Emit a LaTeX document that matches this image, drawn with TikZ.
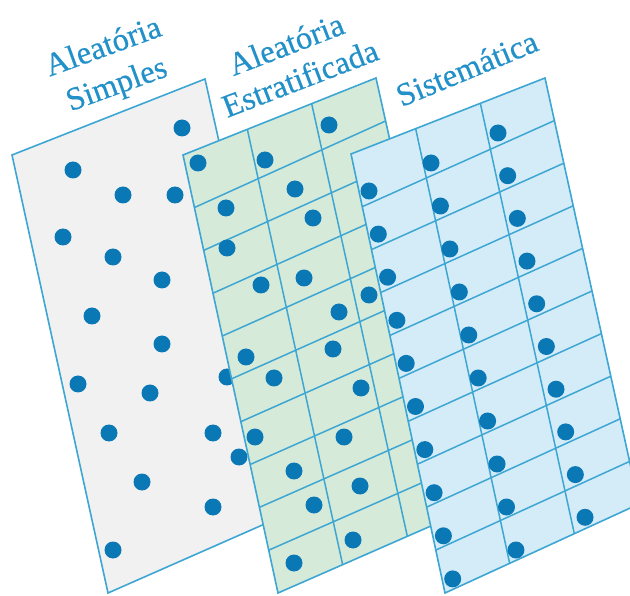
\documentclass[tikz,border=0pt]{standalone}
\usepackage{fontspec}
\setmainfont{Liberation Serif}
\newfontfamily\titlefont[FakeBold=0.35]{Liberation Serif}
\usetikzlibrary{calc}
\definecolor{linec}{HTML}{3EA6D3}
\definecolor{dotc}{HTML}{0B78B6}
\definecolor{textc}{HTML}{2290C9}
\definecolor{grayfill}{HTML}{F1F1F2}
\definecolor{greenfill}{HTML}{D5EAD8}
\definecolor{bluefill}{HTML}{D4ECF8}
\newcommand\sheetgrid[4]{%
  \foreach \r [evaluate=\r as \fl using 0.12+(\r-1)*0.09778, evaluate=\r as \fr using \r/10] in {1,...,9}{
    \draw[gridline] ($(#1)!\fl!(#4)$) -- ($(#2)!\fr!(#3)$);
  }
  \foreach \c [evaluate=\c as \fc using \c/3] in {1,2}{
    \draw[gridline] ($(#1)!\fc!(#2)$) -- ($(#4)!\fc!(#3)$);
  }
}
\begin{document}
\begin{tikzpicture}[x=1pt,y=-1pt,
  sheet/.style={draw=linec, line width=1.6pt, line join=miter},
  gridline/.style={draw=linec, line width=1.5pt},
  dot/.style={fill=dotc},
  title/.style={text=textc, font=\titlefont\fontsize{32.5}{38}\selectfont, anchor=base, inner sep=0pt}]
\clip (0,0) rectangle (630,596);
\fill[white] (0,0) rectangle (630,596);
% corners
\coordinate (gTL) at (12,155);  \coordinate (gTR) at (205,79);
\coordinate (gBR) at (301,508); \coordinate (gBL) at (108,593);
\coordinate (sTL) at (183,155); \coordinate (sTR) at (376,78);
\coordinate (sBR) at (472,508); \coordinate (sBL) at (278,593);
\coordinate (bTL) at (351,154); \coordinate (bTR) at (545,78);
\coordinate (bBR) at (639,504); \coordinate (bBL) at (445,593);
% titles
\node[title, rotate=20] (t1a) at (106.5,56) {Aleatória};
\node[title, rotate=20] (t1b) at (120,93.5) {Simples};
\node[title, rotate=21] (t2a) at (290,54.5) {Aleatória};
\node[title, rotate=21] (t2b) at (304,88.5) {Estratificada};
\node[title, rotate=22.5] (t3) at (471,78.5) {Sistemática};
% gray sheet
\path[sheet, fill=grayfill] (gTL) -- (gTR) -- (gBR) -- (gBL) -- cycle;
\foreach \x/\y in {182/128, 73/170, 123/195, 175/195, 63/237, 113/257, 162/280,
  92/316, 162/344, 78/384, 150/393, 227/377, 109/433, 213/433, 142/482,
  239/457, 213/507, 113/550}
  \fill[dot] (\x,\y) circle[radius=8.5pt];
% green sheet
\path[fill=greenfill] (sTL) -- (sTR) -- (sBR) -- (sBL) -- cycle;
\sheetgrid{sTL}{sTR}{sBR}{sBL}
\path[sheet] (sTL) -- (sTR) -- (sBR) -- (sBL) -- cycle;
\foreach \x/\y in {198/163, 265/160, 329/125, 226/208, 295/189, 313/218,
  227/248, 261/285, 304/278, 339/312, 369/295, 246/357, 333/349, 274/378,
  361/388, 255/437, 344/437, 294/471, 360/486, 314/505, 353/540, 294/563}
  \fill[dot] (\x,\y) circle[radius=8.5pt];
% blue sheet
\path[fill=bluefill] (bTL) -- (bTR) -- (bBR) -- (bBL) -- cycle;
\sheetgrid{bTL}{bTR}{bBR}{bBL}
\path[sheet] (bTL) -- (bTR) -- (bBR) -- (bBL) -- cycle;
\foreach \sx/\sy/\dx/\dy in {369/191/9.3/43.1, 431/163/9.44/43.0, 498/133/9.67/42.7}
  \foreach \r in {0,...,9}
    \fill[dot] ({\sx+\r*\dx},{\sy+\r*\dy}) circle[radius=8.5pt];
\end{tikzpicture}
\end{document}
